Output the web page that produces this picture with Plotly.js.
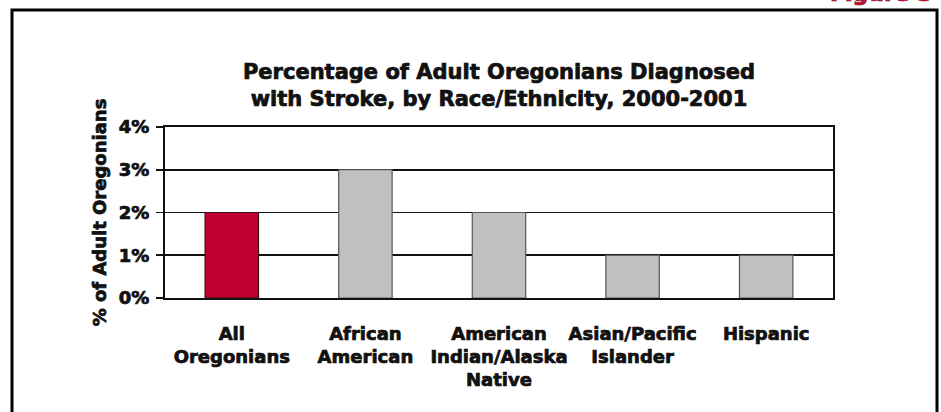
<!DOCTYPE html>
<html>
<head>
<meta charset="utf-8">
<script src="https://cdn.plot.ly/plotly-3.0.1.min.js"></script>
<style>
  html, body { margin: 0; padding: 0; background: #ffffff; }
  #chart { width: 941px; height: 412px; }
  #chart svg text { stroke: currentColor; stroke-width: 0.7px; paint-order: stroke; }
</style>
</head>
<body>
<div id="chart"></div>
<script>
const categories = [
  "All<br>Oregonians",
  "African<br>American",
  "American<br>Indian/Alaska<br>Native",
  "Asian/Pacific<br>Islander",
  "Hispanic"
];
const values = [2, 3, 2, 1, 1];
const barColors = ["#c0002f", "#c0c0c0", "#c0c0c0", "#c0c0c0", "#c0c0c0"];
const lineColors = ["#3a1018", "#555555", "#555555", "#555555", "#555555"];
const yTickVals = [0, 1, 2, 3, 4];
const yTickText = ["0%", "1%", "2%", "3%", "4%"];

const FONT = "'DejaVu Sans', 'Liberation Sans', Arial, sans-serif";

// plot area in pixels
const L = 165, R = 108, T = 127, B = 114, W = 941, H = 412;
const pw = W - L - R, ph = H - T - B;
const px = x => (x - L) / pw;
const py = y => (H - B - y) / ph;

const trace = {
  type: "bar",
  x: categories,
  y: values,
  marker: { color: barColors, line: { color: lineColors, width: 1.2 } },
  hoverinfo: "x+y"
};

const layout = {
  width: W, height: H,
  margin: { l: L, r: R, t: T, b: B, pad: 0 },
  paper_bgcolor: "#ffffff",
  plot_bgcolor: "#ffffff",
  bargap: 0.6,
  showlegend: false,
  font: { family: FONT, color: "#111111", size: 17 },
  title: {
    text: "<b>Percentage of Adult Oregonians Diagnosed<br>with Stroke, by Race/Ethnicity, 2000-2001</b>",
    font: { family: FONT, size: 21, color: "#111111" },
    xref: "paper", x: 0.5, xanchor: "center",
    yref: "container", y: 1 - 79 / H, yanchor: "middle"
  },
  xaxis: {
    type: "category",
    showline: true, linecolor: "#111111", linewidth: 2, mirror: true,
    ticks: "", showgrid: false, zeroline: false,
    tickfont: { family: FONT, size: 18, color: "#111111", weight: "bold" },
    tickangle: 0,
    ticklabelstandoff: 18
  },
  yaxis: {
    range: [0, 4], tickvals: yTickVals, ticktext: yTickText,
    showline: true, linecolor: "#111111", linewidth: 2, mirror: true,
    showgrid: true, gridcolor: "#111111", gridwidth: 1.8,
    zeroline: false,
    ticks: "outside", ticklen: 7, tickcolor: "#111111", tickwidth: 1.8,
    ticklabelstandoff: 3,
    tickfont: { family: FONT, size: 18, color: "#111111", weight: "bold" },
    title: {
      text: "<b>% of Adult Oregonians</b>",
      font: { family: FONT, size: 18, color: "#111111" },
      standoff: 8
    }
  },
  shapes: [
    {
      type: "rect", xref: "paper", yref: "paper",
      x0: px(12), x1: px(937), y0: py(420), y1: py(10),
      line: { color: "#000000", width: 3 }, fillcolor: "rgba(0,0,0,0)",
      layer: "below"
    }
  ],
  annotations: [
    {
      text: "<b>Figure 3</b>", xref: "paper", yref: "paper",
      x: px(935), xanchor: "right", y: py(8), yanchor: "bottom",
      showarrow: false,
      font: { family: FONT, size: 22, color: "#c8102e" }
    }
  ]
};

Plotly.newPlot("chart", [trace], layout, { displayModeBar: false, staticPlot: true });
</script>
</body>
</html>
